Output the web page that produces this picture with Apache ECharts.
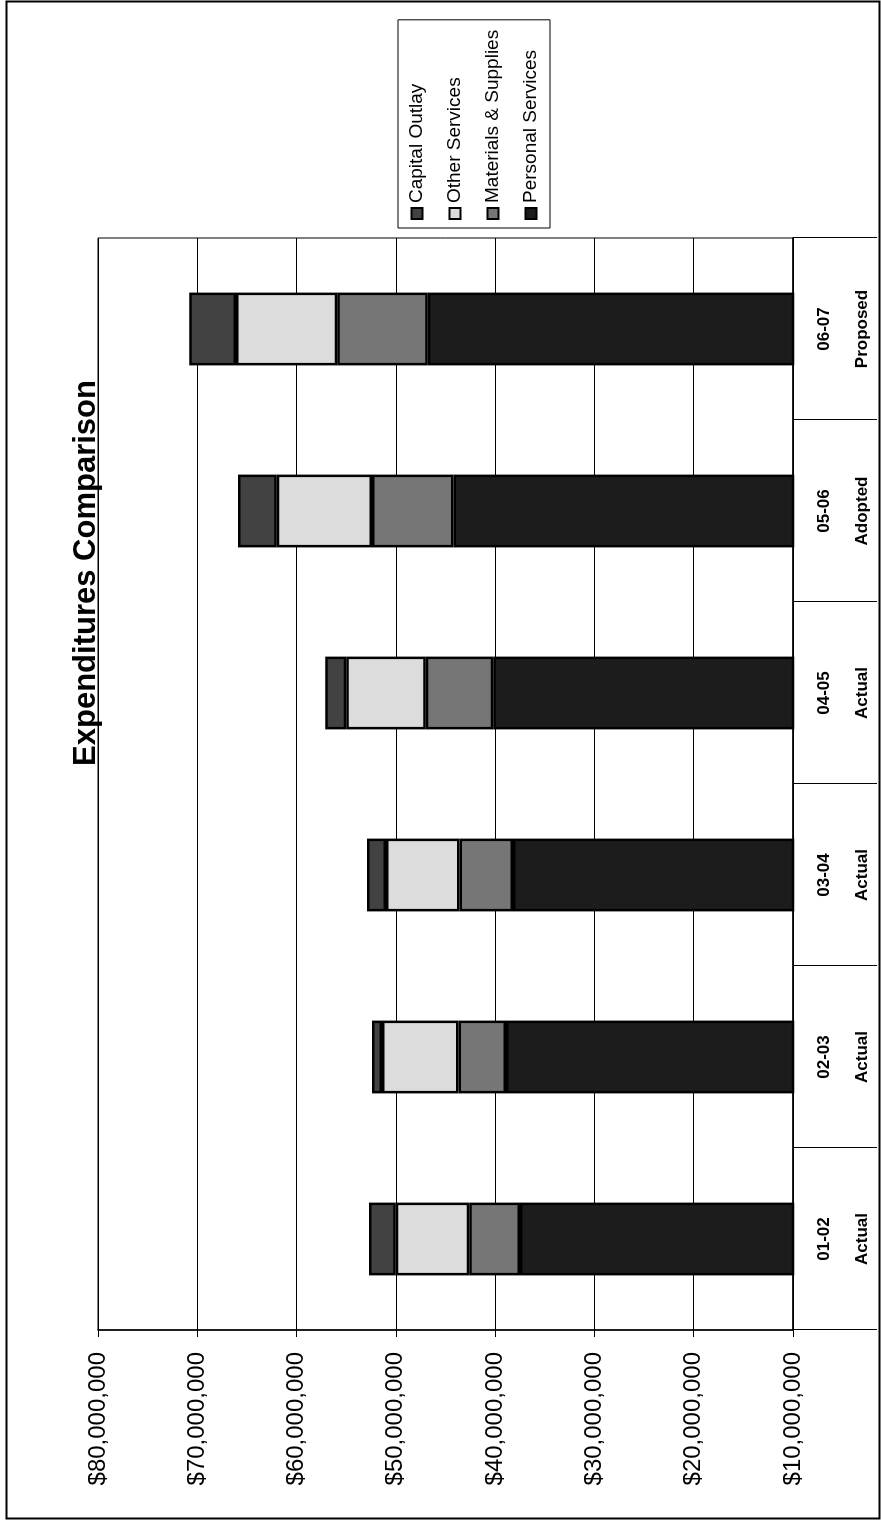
<!DOCTYPE html>
<html>
<head>
<meta charset="utf-8">
<script src="https://cdn.jsdelivr.net/npm/echarts@6/dist/echarts.min.js"></script>
<style>
  html, body { margin: 0; padding: 0; background: #fff; width: 881px; height: 1520px; overflow: hidden; }
  #chart { position: absolute; left: 0; top: 0; width: 1520px; height: 881px;
           transform-origin: 0 0; transform: translate(0px, 1520px) rotate(-90deg); }
</style>
</head>
<body>
<div id="chart"></div>
<script>
// ---- data (US dollars) ----
const fiscalYears = ['01-02', '02-03', '03-04', '04-05', '05-06', '06-07'];
const budgetTypes = ['Actual', 'Actual', 'Actual', 'Actual', 'Adopted', 'Proposed'];
const seriesNames = ['Capital Outlay', 'Other Services', 'Materials & Supplies', 'Personal Services'];
const personalServices   = [37500000, 38900000, 38200000, 40200000, 44200000, 46800000];
const materialsSupplies  = [ 5100000,  4800000,  5400000,  6800000,  8200000,  9100000];
const otherServices      = [ 7400000,  7700000,  7400000,  8000000,  9600000, 10200000];
const capitalOutlay      = [ 2700000,  1000000,  1900000,  2100000,  3900000,  4700000];
const axisMin = 10000000, axisMax = 80000000, axisStep = 10000000;
const chartTitle = 'Expenditures Comparison';

const FONT = "'Liberation Sans', Arial, Helvetica, sans-serif";
const chart = echarts.init(document.getElementById('chart'), null, { renderer: 'canvas', width: 1520, height: 881 });

function money(v) {
  return '$' + v.toString().replace(/\B(?=(\d{3})+(?!\d))/g, ',');
}

function barSeries(name, data, color) {
  return {
    name: name, type: 'bar', stack: 'total', data: data, clip: true,
    barCategoryGap: '60%',
    itemStyle: { color: color, borderColor: '#000', borderWidth: 2.5 },
    emphasis: { disabled: true }
  };
}

chart.setOption({
  animation: false,
  backgroundColor: '#fff',
  textStyle: { fontFamily: FONT, color: '#000' },
  grid: { left: 190, right: 238, top: 98, bottom: 88, show: true, borderColor: '#000', borderWidth: 1 },
  legend: {
    data: seriesNames.slice(),
    orient: 'vertical', left: 1292, top: 398,
    padding: [9, 10, 9, 8], itemGap: 18,
    itemWidth: 11, itemHeight: 11, icon: 'rect',
    borderColor: '#000', borderWidth: 1,
    textStyle: { fontSize: 19, lineHeight: 20, color: '#000', fontFamily: FONT }
  },
  xAxis: {
    type: 'category', data: fiscalYears,
    axisLine: { show: true, lineStyle: { color: '#000', width: 1.5 } },
    axisTick: { show: true, interval: 0, length: 84, lineStyle: { color: '#000', width: 1 } },
    axisLabel: {
      interval: 0, margin: 12, fontSize: 17, fontWeight: 'bold', lineHeight: 38, color: '#000',
      formatter: function (v, i) { return v + '\n' + budgetTypes[i]; }
    },
    splitLine: { show: false }
  },
  yAxis: {
    type: 'value', min: axisMin, max: axisMax, interval: axisStep,
    axisLine: { show: true, lineStyle: { color: '#000', width: 1.5 } },
    axisTick: { show: true, length: 7, lineStyle: { color: '#000' } },
    axisLabel: { fontSize: 24, margin: 22, color: '#000', formatter: money },
    splitLine: { show: true, lineStyle: { color: '#000', width: 1 } }
  },
  series: [
    barSeries('Personal Services', personalServices, '#1c1c1c'),
    barSeries('Materials & Supplies', materialsSupplies, '#767676'),
    barSeries('Other Services', otherServices, '#dcdcdc'),
    barSeries('Capital Outlay', capitalOutlay, '#424242')
  ],
  graphic: [
    {
      type: 'rect', silent: true, z: 100,
      shape: { x: 1.5, y: 6.5, width: 1517, height: 873 },
      style: { fill: 'none', stroke: '#000', lineWidth: 2 }
    },
    {
      type: 'text', silent: true, x: 947, y: 86,
      style: {
        text: chartTitle, fill: '#000',
        font: "bold 31px " + FONT,
        fontSize: 31, fontWeight: 'bold', fontFamily: FONT,
        align: 'center', verticalAlign: 'middle',
        textAlign: 'center', textVerticalAlign: 'middle'
      }
    }
  ]
});
</script>
</body>
</html>
